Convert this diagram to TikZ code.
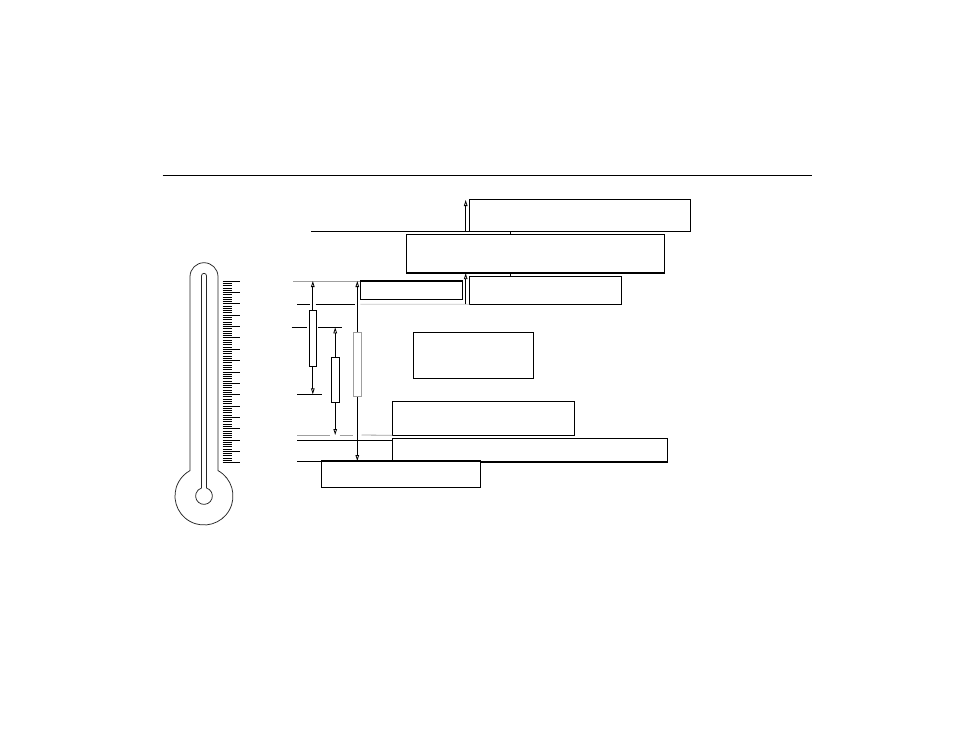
\documentclass[tikz,border=0pt]{standalone}
\usetikzlibrary{arrows.meta}
\begin{document}
\begin{tikzpicture}[x=1pt,y=-1pt,
  box/.style={draw=black,line width=1.1pt,inner sep=0pt,outer sep=0pt,fill=white},
  bar/.style={draw=black,line width=0.9pt,inner sep=0pt,outer sep=0pt,fill=white},
  lightbar/.style={draw=gray!75,line width=1pt,inner sep=0pt,outer sep=0pt,fill=white},
  thin/.style={line width=0.8pt,black},
  grayline/.style={line width=0.8pt,gray!75},
  paleline/.style={line width=0.8pt,gray!45},
  dimarrow/.style={line width=0.8pt,black,-{Triangle[open,length=6pt,width=3.6pt]}},
  therm/.style={line width=0.75pt,black!85},
  tick/.style={line width=0.6pt,black}]
\useasboundingbox (0,0) rectangle (954,737);

% top rule
\coordinate (ruleL) at (162.7,175.3);
\coordinate (ruleR) at (812,175.3);
\draw[line width=1pt] (ruleL) -- (ruleR);

% thermometer
\draw[therm] (190,470.6) -- (190,276.7) arc[start angle=180,end angle=360,radius=14]
  -- (218,470.6) arc[start angle=-61.1,end angle=241.1,radius=29] -- cycle;
\draw[therm] (201.5,488) -- (201.5,275.8) arc[start angle=180,end angle=360,radius=2.5]
  -- (206.5,488) arc[start angle=-72.6,end angle=252.6,radius=8.38] -- cycle;

% scale
\foreach \i in {0,...,16}{
  \draw[tick] (222.5,{281+11.35*\i}) -- (240,{281+11.35*\i});
}
\foreach \i in {0,...,15}{
  \foreach \j in {1,...,4}{
    \draw[tick] (222.5,{281+11.35*\i+2.27*\j}) -- (231.5,{281+11.35*\i+2.27*\j});
  }
}

% boxes
\node[box,minimum width=221.4pt,minimum height=32pt] (A) at (580,215.3) {};
\node[box,minimum width=258.2pt,minimum height=38.7pt] (B) at (535.4,253.65) {};
\node[box,minimum width=102.2pt,minimum height=18.3pt] (C) at (411.4,290.15) {};
\node[box,minimum width=152.4pt,minimum height=27.9pt] (D) at (545.5,290.25) {};
\node[box,minimum width=120.4pt,minimum height=46pt] (E) at (473.5,355.3) {};
\node[box,minimum width=182pt,minimum height=34pt] (F) at (483.3,418.3) {};
\node[box,minimum width=275pt,minimum height=23.7pt] (G) at (529.8,450.15) {};
\node[box,minimum width=159.4pt,minimum height=26.3pt] (H) at (401,474.15) {};

% links between stacked boxes
\coordinate (cx) at (510.3,0);
\draw[thin] (cx |- A.south) -- (cx |- B.north);
\draw[thin] (cx |- B.south) -- (cx |- D.north);

% upper reference lines and arrows
\coordinate (l1) at (311,231.3);
\draw[thin] (l1) -- (A.south west);
\coordinate (a1s) at (465.7,231.3);
\coordinate (a1e) at (465.7,200);
\draw[dimarrow] (a1s) -- (a1e);

\coordinate (l2) at (293,281);
\draw[grayline] (l2) -- (C.north west);

\coordinate (l3a) at (297,304.3);
\coordinate (l3b) at (310.3,304.3);
\coordinate (l3c) at (315.5,304.3);
\coordinate (l3d) at (354.5,304.3);
\coordinate (l3e) at (360.3,304.3);
\draw[thin] (l3a) -- (l3b);
\draw[thin] (l3c) -- (l3d);
\draw[paleline] (l3e) -- (D.south west);
\coordinate (a2s) at (465.7,304.3);
\coordinate (a2e) at (465.7,273.2);
\draw[dimarrow] (a2s) -- (a2e);

% dimension bars
\node[bar,minimum width=7pt,minimum height=55.6pt] (r1) at (312.8,338.5) {};
\node[bar,minimum width=8.3pt,minimum height=45pt] (r2) at (335.2,379.8) {};
\node[lightbar,minimum width=8pt,minimum height=64.7pt] (r3) at (357.3,364.6) {};

\coordinate (t1) at (312.8,281);
\coordinate (b1) at (312.8,394.3);
\draw[dimarrow] (r1.north) -- (t1);
\draw[dimarrow] (r1.south) -- (b1);

\coordinate (t2) at (335.2,327.3);
\coordinate (b2) at (335.2,435);
\draw[dimarrow] (r2.north) -- (t2);
\draw[dimarrow] (r2.south) -- (b2);

\coordinate (t3) at (357.3,281);
\draw[dimarrow] (r3.north) -- (t3);
\draw[dimarrow] (r3.south) -- (r3.south |- H.north);

% lower reference lines
\coordinate (l4a) at (291.7,327.3);
\coordinate (l4b) at (306.7,327.3);
\coordinate (l4c) at (318.3,327.3);
\coordinate (l4d) at (341.7,327.3);
\draw[thin] (l4a) -- (l4b);
\draw[thin] (l4c) -- (l4d);

\coordinate (l5a) at (297,394.3);
\draw[thin] (l5a) -- (322.3,394.3);

\coordinate (l6a) at (297,435);
\coordinate (l6b) at (330,435);
\coordinate (l6c) at (339.5,435);
\coordinate (l6d) at (353,435);
\coordinate (l6e) at (361.5,435);
\draw[grayline] (l6a) -- (l6b);
\draw[grayline] (l6c) -- (l6d);
\draw[grayline] (l6e) -- (F.south west);

\coordinate (l7a) at (297,440.5);
\draw[thin] (l7a) -- (G.west |- l7a);

\coordinate (l8a) at (297,461);
\draw[thin] (l8a) -- (H.north west);
\end{tikzpicture}
\end{document}
